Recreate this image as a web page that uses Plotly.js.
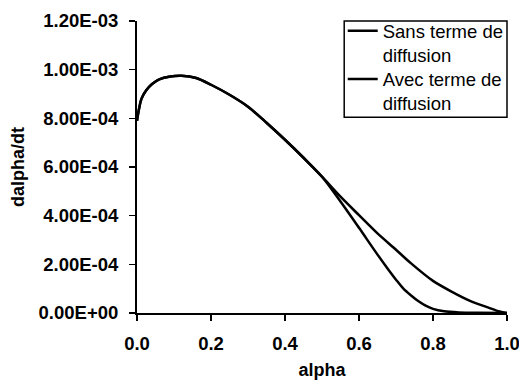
<!DOCTYPE html>
<html>
<head>
<meta charset="utf-8">
<script src="https://cdn.plot.ly/plotly-3.0.1.min.js"></script>
<style>
html,body{margin:0;padding:0;background:#fff;}
#chart{width:519px;height:380px;}
</style>
</head>
<body>
<div id="chart"></div>
<script>
// Shared part of both curves (alpha, dalpha/dt)
const alphaCommon = [0, 0.005, 0.012, 0.025, 0.04, 0.06, 0.09, 0.12, 0.16, 0.2, 0.25, 0.3, 0.35, 0.4, 0.45, 0.5];
const rateCommon = [7.9e-4, 8.35e-4, 8.8e-4, 9.15e-4, 9.4e-4, 9.6e-4, 9.72e-4, 9.75e-4, 9.66e-4, 9.38e-4, 8.97e-4, 8.48e-4, 7.82e-4, 7.12e-4, 6.38e-4, 5.6e-4];

// Sans terme de diffusion (tail)
const alphaSans = [0.55, 0.6, 0.65, 0.68, 0.7, 0.72, 0.74, 0.76, 0.78, 0.8, 0.83, 0.87, 0.92, 1.0];
const rateSans = [4.58e-4, 3.5e-4, 2.4e-4, 1.77e-4, 1.37e-4, 1.0e-4, 0.73e-4, 0.49e-4, 0.3e-4, 0.17e-4, 0.07e-4, 0.025e-4, 0.008e-4, 0];

// Avec terme de diffusion (tail)
const alphaAvec = [0.55, 0.6, 0.65, 0.7, 0.74, 0.8, 0.85, 0.9, 0.95, 0.98, 1.0];
const rateAvec = [4.78e-4, 4.02e-4, 3.27e-4, 2.6e-4, 2.05e-4, 1.32e-4, 0.88e-4, 0.5e-4, 0.22e-4, 0.06e-4, 0];

const seriesNames = ['Sans terme de<br>diffusion', 'Avec terme de<br>diffusion'];

const yTickVals = [0, 2e-4, 4e-4, 6e-4, 8e-4, 1e-3, 1.2e-3];
const yTickText = ['0.00E+00', '2.00E-04', '4.00E-04', '6.00E-04', '8.00E-04', '1.00E-03', '1.20E-03'];
const xTickVals = [0, 0.2, 0.4, 0.6, 0.8, 1.0];
const xTickText = ['0.0', '0.2', '0.4', '0.6', '0.8', '1.0'];

const FONT = 'Liberation Sans, Arial, sans-serif';
const TICKSIZE = 18.5;
const LEGSIZE = 18.5;

const traces = [
  {
    x: alphaCommon.concat(alphaSans),
    y: rateCommon.concat(rateSans),
    name: seriesNames[0], legend: 'legend',
    type: 'scatter', mode: 'lines',
    line: {color: '#000', width: 2.5, shape: 'spline', smoothing: 0.8}
  },
  {
    x: alphaCommon.concat(alphaAvec),
    y: rateCommon.concat(rateAvec),
    name: seriesNames[1], legend: 'legend2',
    type: 'scatter', mode: 'lines',
    line: {color: '#000', width: 2.5, shape: 'spline', smoothing: 0.8}
  }
];

const legCommon = {
  xanchor: 'left', yanchor: 'top',
  borderwidth: 0, bgcolor: 'rgba(0,0,0,0)',
  font: {family: FONT, size: LEGSIZE, color: '#000'},
  valign: 'top', itemwidth: 30
};

const layout = {
  width: 519, height: 380,
  margin: {l: 137, r: 12, t: 21, b: 67, autoexpand: false},
  paper_bgcolor: '#fff', plot_bgcolor: '#fff',
  font: {family: FONT, color: '#000', size: 18},
  showlegend: true,
  legend: Object.assign({x: 0.556, y: 1.03}, legCommon),
  legend2: Object.assign({x: 0.556, y: 0.865}, legCommon),
  shapes: [{
    type: 'rect', xref: 'paper', yref: 'paper',
    x0: 0.56, x1: 1.0, y0: 0.67, y1: 1.0,
    line: {color: '#000', width: 1.5}, fillcolor: 'rgba(0,0,0,0)', layer: 'above'
  }],
  xaxis: {
    range: [0, 1], tickvals: xTickVals, ticktext: xTickText,
    showline: true, linecolor: '#000', linewidth: 2,
    ticks: 'outside', ticklen: 6, tickwidth: 1.5, tickcolor: '#000',
    ticklabelstandoff: 7, ticklabeloverflow: 'allow',
    showgrid: false, zeroline: false,
    tickfont: {family: FONT, size: TICKSIZE, weight: 'bold'},
    title: {text: 'alpha', font: {family: FONT, size: 18, weight: 'bold'}, standoff: 10}
  },
  yaxis: {
    range: [0, 1.2e-3], tickvals: yTickVals, ticktext: yTickText,
    showline: true, linecolor: '#000', linewidth: 2,
    ticks: 'outside', ticklen: 6, tickwidth: 1.5, tickcolor: '#000',
    ticklabelstandoff: 7, ticklabeloverflow: 'allow',
    showgrid: false, zeroline: false,
    tickfont: {family: FONT, size: TICKSIZE, weight: 'bold'},
    title: {text: 'dalpha/dt', font: {family: FONT, size: 18, weight: 'bold'}, standoff: 9}
  }
};

Plotly.newPlot('chart', traces, layout, {displayModeBar: false, staticPlot: true});
</script>
</body>
</html>
